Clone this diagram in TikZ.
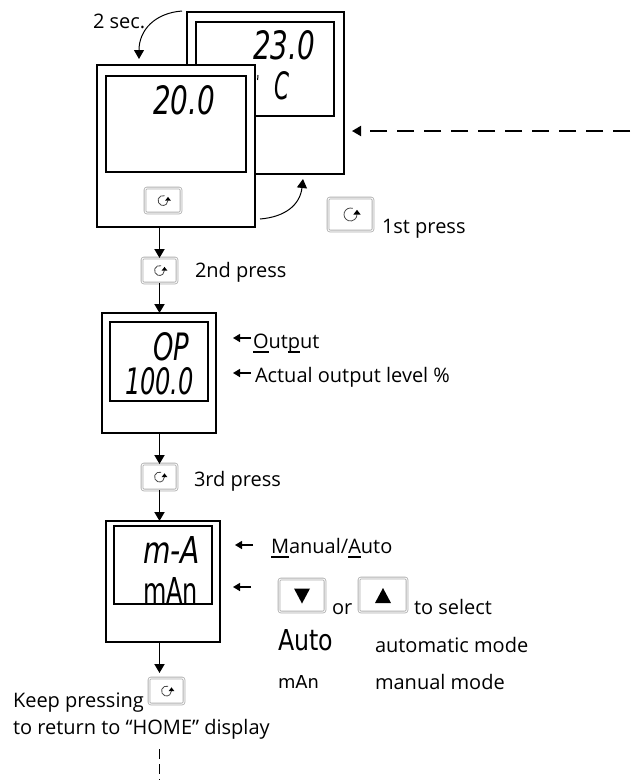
\documentclass[tikz,border=0pt]{standalone}
\usepackage{fontspec}
\usepackage{graphicx}
\setmainfont{Open Sans}
\newfontfamily\lcdfont{DejaVu Sans}
\usetikzlibrary{arrows.meta,calc}
\newcommand\ulc[1]{\setbox0\hbox{#1}\rlap{\rule[-4.5pt]{\wd0}{1.4pt}}#1}
\newcommand\lcdt[3]{\resizebox{#1pt}{#2pt}{\lcdfont\itshape #3}}
\newcommand\lcdu[3]{\resizebox{#1pt}{#2pt}{\lcdfont #3}}
\tikzset{
  unit/.style={draw=black,line width=1.5pt,fill=white,inner sep=0pt,outer sep=0pt,anchor=north west},
  screen/.style={draw=black,line width=1.5pt,fill=white,inner sep=0pt,outer sep=0pt,anchor=north west},
  keybtn/.style={draw=black!30,fill=white,double=black!3,double distance=1pt,line width=.8pt,rounded corners=2pt,inner sep=0pt,outer sep=0pt},
  lbl/.style={font=\fontsize{20}{24}\selectfont,anchor=base west,inner sep=0pt,outer sep=0pt},
  lcd/.style={anchor=south west,inner sep=0pt,outer sep=0pt},
  flow/.style={draw=black,line width=1.8pt,-{Triangle[length=9pt,width=10pt]}},
  small/.style={draw=black,line width=1.4pt,-{Triangle[length=7pt,width=8pt]}},
  reload/.pic={
    \draw[draw=black!70,line width=.8pt] (-70:5) arc[start angle=-70,end angle=-360,radius=5];
    \fill[black] (2.2,0) -- (7.8,0) -- (5,-3.6) -- cycle;
  }
}
\begin{document}
\begin{tikzpicture}[x=1pt,y=-1pt]
\useasboundingbox[fill=white] (0,0) rectangle (630,780);
% back unit
\node[unit,minimum width=157pt,minimum height=162pt] (back) at (187,12) {};
\node[screen,minimum width=138pt,minimum height=94pt] (backscr) at (196,22) {};
\node[lcd] (t23) at (253,60) {\lcdt{62}{29}{23.0}};
\node[lcd] (tc) at (274,100) {\lcdt{15}{28}{C}};
\draw[black,line width=1pt] (258,75) -- (257.6,80);
% front unit
\node[unit,minimum width=158pt,minimum height=162pt] (front) at (97,65) {};
\node[screen,minimum width=140pt,minimum height=96pt] (frontscr) at (106,76) {};
\node[lcd] (t20) at (153,115) {\lcdt{62}{29}{20.0}};
\node[keybtn,minimum width=36pt,minimum height=25pt] (b0) at (163,200.5) {};
\pic at (b0.center) {reload};
% other buttons
\node[keybtn,minimum width=45pt,minimum height=33pt] (b1) at (350.5,214.5) {};
\pic[scale=1.3] at (b1.center) {reload};
\node[keybtn,minimum width=35pt,minimum height=25pt] (b2) at (159.5,270.5) {};
\pic at (b2.center) {reload};
\node[keybtn,minimum width=35pt,minimum height=26pt] (b3) at (159.5,477) {};
\pic at (b3.center) {reload};
\node[keybtn,minimum width=35pt,minimum height=26pt] (b4) at (166.5,691) {};
\pic at (b4.center) {reload};
\node[keybtn,minimum width=46pt,minimum height=33pt] (bd) at (302,595.5) {};
\fill[black] ($(bd.center)+(-8,-7)$) -- ++(16,0) -- ++(-8,15) -- cycle;
\node[keybtn,minimum width=48pt,minimum height=34pt] (bu) at (383,595) {};
\fill[black] ($(bu.center)+(-8,8)$) -- ++(16,0) -- ++(-8,-15) -- cycle;
% unit 2
\node[unit,minimum width=114pt,minimum height=120pt] (u2) at (102,313) {};
\node[screen,minimum width=98pt,minimum height=79pt] (s2) at (110,322) {};
\node[lcd] (top) at (153,361) {\lcdt{36}{28}{OP}};
\node[lcd] (t100) at (125,395) {\lcdt{69}{27}{100.0}};
% unit 3
\node[unit,minimum width=114pt,minimum height=121pt] (u3) at (106,521) {};
\node[screen,minimum width=98pt,minimum height=78pt] (s3) at (114,526) {};
\node[lcd] (tma) at (143,563) {\lcdt{57}{27}{m-A}};
\node[lcd] (tman) at (143,603) {\lcdu{55}{26}{mAn}};
% connectors
\coordinate (c1a) at (182,11);
\draw[flow,line width=1pt] (c1a) .. controls (155,13) and (139,30) .. ([xshift=-37pt,yshift=6pt]front.north);
\coordinate (c1b) at (260,219);
\draw[flow,line width=1pt] (c1b) .. controls (285,217) and (300,205) .. ([xshift=37.5pt,yshift=-5pt]back.south);
\coordinate (dash0) at (630,131);
\draw[flow,dash pattern=on 17pt off 10pt] (dash0) -- (352,131);
\draw[flow] (front.south -| b2.north) -- (b2.north);
\draw[flow] (b2.south) -- (u2.north -| b2.south);
\draw[flow] (u2.south -| b3.north) -- (b3.north);
\draw[flow] (b3.south) -- (u3.north -| b3.south);
\coordinate (c4) at (159.5,673);
\draw[flow] (u3.south -| c4) -- (c4);
\coordinate (d0) at (159.5,749);
\coordinate (d1) at (159.5,780);
\draw[black,line width=.9pt,dash pattern=on 10pt off 5pt] (d0) -- (d1);
% small arrows
\coordinate (o0) at (251,338); \coordinate (o1) at (233,338);
\draw[small] (o0) -- (o1);
\coordinate (a0) at (251,373); \coordinate (a1) at (233,373);
\draw[small] (a0) -- (a1);
\coordinate (m0) at (253,545); \coordinate (m1) at (235,545);
\draw[small] (m0) -- (m1);
\coordinate (n0) at (251,587); \coordinate (n1) at (233,587);
\draw[small] (n0) -- (n1);
% labels
\node[lbl] (l1) at (93,28) {2 sec.};
\node[lbl] (l2) at (382,233) {1st press};
\node[lbl] (l3) at (195,277) {2nd press};
\node[lbl] (l4) at (253,348) {\ulc{O}ut\ulc{p}ut};
\node[lbl] (l5) at (255,382) {Actual output level \%};
\node[lbl] (l6) at (194,486) {3rd press};
\node[lbl] (l7) at (271,553) {\ulc{M}anual/\ulc{A}uto};
\node[lbl] (l8) at (332,614) {or};
\node[lbl] (l9) at (414,614) {to select};
\node[lcd] (auto) at (278,651) {\lcdu{55}{21}{Auto}};
\node[lbl] (l10) at (375,652) {automatic mode};
\node[lcd] (man2) at (278,688) {\lcdu{41}{13}{mAn}};
\node[lbl] (l11) at (375,689) {manual mode};
\node[lbl] (l12) at (13,707) {Keep pressing};
\node[lbl] (l13) at (13,734) {to return to “HOME” display};
\end{tikzpicture}
\end{document}
